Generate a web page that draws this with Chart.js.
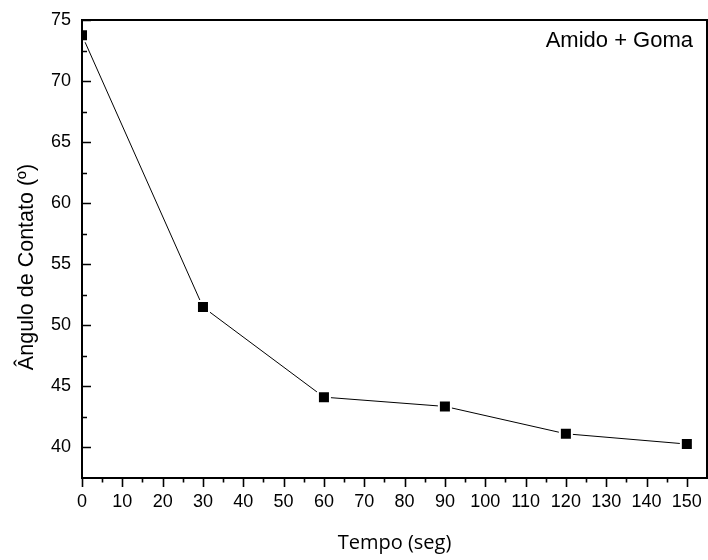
<!DOCTYPE html>
<html lang="pt">
<head>
<meta charset="UTF-8">
<title>Ângulo de Contato x Tempo</title>
<script src="https://cdn.jsdelivr.net/npm/chart.js@4.4.1/dist/chart.umd.min.js"></script>
<style>
  html, body { margin: 0; padding: 0; background: #fff; }
  #wrap { width: 708px; height: 560px; }
</style>
</head>
<body>
<div id="wrap"><canvas id="chart" width="708" height="560"></canvas></div>
<script>
// dados
const tempo = [0, 30, 60, 90, 120, 150];
const angulo = [73.75, 51.5, 44.12, 43.36, 41.12, 40.28];

const xTickValues = [0, 10, 20, 30, 40, 50, 60, 70, 80, 90, 100, 110, 120, 130, 140, 150];
const xMinorTicks = [5, 15, 25, 35, 45, 55, 65, 75, 85, 95, 105, 115, 125, 135, 145];
const yTickValues = [40, 45, 50, 55, 60, 65, 70, 75];
const yMinorTicks = [42.5, 47.5, 52.5, 57.5, 62.5, 67.5, 72.5];

const seriesLabel = 'Amido + Goma';
const yTitle = 'Ângulo de Contato (º)';
const FONT = '"Liberation Sans", Arial, sans-serif';

// moldura, marcas dos eixos, título do eixo y e legenda
const framePlugin = {
  id: 'frame',
  afterDatasetsDraw(chart) {
    const { ctx, chartArea: a, scales: { x, y } } = chart;
    ctx.save();
    ctx.strokeStyle = '#000';
    ctx.lineWidth = 2;
    ctx.strokeRect(a.left, a.top, a.right - a.left, a.bottom - a.top);

    ctx.lineWidth = 1.6;
    ctx.beginPath();
    // eixo x: marcas para fora
    xTickValues.forEach(v => {
      const px = Math.round(x.getPixelForValue(v)) + 0.5;
      ctx.moveTo(px, a.bottom);
      ctx.lineTo(px, a.bottom + 9);
    });
    xMinorTicks.forEach(v => {
      const px = Math.round(x.getPixelForValue(v)) + 0.5;
      ctx.moveTo(px, a.bottom);
      ctx.lineTo(px, a.bottom + 4.5);
    });
    // eixo y: marcas para dentro
    yTickValues.forEach(v => {
      const py = Math.round(y.getPixelForValue(v)) + 0.5;
      ctx.moveTo(a.left, py);
      ctx.lineTo(a.left + 9, py);
    });
    yMinorTicks.forEach(v => {
      const py = Math.round(y.getPixelForValue(v)) + 0.5;
      ctx.moveTo(a.left, py);
      ctx.lineTo(a.left + 5, py);
    });
    ctx.stroke();

    ctx.fillStyle = '#000';
    ctx.font = '22px ' + FONT;
    ctx.textAlign = 'right';
    ctx.textBaseline = 'alphabetic';
    ctx.fillText(seriesLabel, a.right - 14, a.top + 27);

    // título do eixo y (um pouco abaixo do centro, como no original)
    ctx.translate(27, (a.top + a.bottom) / 2 + 18);
    ctx.rotate(-Math.PI / 2);
    ctx.font = '21.5px ' + FONT;
    ctx.textAlign = 'center';
    ctx.textBaseline = 'middle';
    ctx.fillText(yTitle, 0, 0);
    ctx.restore();
  }
};

new Chart(document.getElementById('chart'), {
  type: 'line',
  data: {
    datasets: [{
      label: seriesLabel,
      data: tempo.map((t, i) => ({ x: t, y: angulo[i] })),
      borderColor: '#000',
      borderWidth: 1,
      tension: 0,
      pointStyle: 'rect',
      pointRadius: 8.5,
      pointBackgroundColor: '#000',
      pointBorderColor: '#fff',
      pointBorderWidth: 2,
      clip: 0
    }]
  },
  options: {
    responsive: false,
    animation: false,
    layout: { autoPadding: false, padding: { top: 20, right: 1, left: 0, bottom: 0 } },
    plugins: {
      legend: { display: false },
      tooltip: { enabled: false }
    },
    scales: {
      x: {
        type: 'linear',
        min: 0,
        max: 155,
        grid: { display: false, drawTicks: false },
        border: { display: false },
        afterBuildTicks: s => { s.ticks = xTickValues.map(v => ({ value: v })); },
        afterFit: s => { s.height = 82; s.paddingLeft = 0; s.paddingRight = 0; },
        ticks: {
          color: '#000',
          font: { family: FONT, size: 18 },
          padding: 13,
          maxRotation: 0,
          autoSkip: false
        },
        title: {
          display: true,
          text: 'Tempo (seg)',
          color: '#000',
          font: { family: '"Open Sans", sans-serif', size: 20 },
          padding: { top: 0, bottom: 5 }
        }
      },
      y: {
        type: 'linear',
        min: 37.5,
        max: 75,
        grid: { display: false, drawTicks: false },
        border: { display: false },
        afterBuildTicks: s => { s.ticks = yTickValues.map(v => ({ value: v })); },
        afterFit: s => { s.width = 82; s.paddingTop = 0; s.paddingBottom = 0; },
        ticks: {
          color: '#000',
          font: { family: FONT, size: 18 },
          padding: 11,
          autoSkip: false
        },
        title: { display: false }
      }
    }
  },
  plugins: [framePlugin]
});
</script>
</body>
</html>
